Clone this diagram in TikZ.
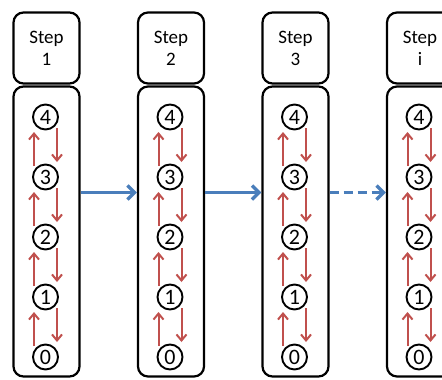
\documentclass[tikz,border=0pt]{standalone}
\usepackage{fontspec}
\setmainfont{Carlito}
\usetikzlibrary{arrows.meta,calc}
\definecolor{bluearr}{RGB}{74,126,187}
\definecolor{redarr}{RGB}{192,80,77}
\tikzset{
  header/.style={draw,line width=2.2pt,rounded corners=10pt,minimum width=66pt,minimum height=71pt,inner sep=0pt,align=center,font=\fontsize{19}{22}\selectfont},
  body/.style={draw,line width=2.2pt,rounded corners=10pt,minimum width=66pt,minimum height=290pt,inner sep=0pt},
  level/.style={draw,circle,line width=1.9pt,minimum size=25pt,inner sep=0pt,font=\fontsize{22}{22}\selectfont},
  redarrow/.style={draw=redarr,line width=2pt,-{Straight Barb[length=6pt,width=10pt,line width=2pt]}},
  bluearrow/.style={draw=bluearr,line width=3.4pt,-{Straight Barb[length=7pt,width=14pt,line width=3.4pt]}},
  bluedash/.style={bluearrow,dash pattern=on 9pt off 5pt}
}
\begin{document}
\begin{tikzpicture}[x=1pt,y=1pt]
\useasboundingbox (0,0) rectangle (442,-380);
\clip (0,0) rectangle (442,-380);
\foreach \c/\x/\lab in {1/46.5/1,2/171/2,3/295.5/3,4/420/i}{
  \node[header] (h\c) at (\x,-48) {Step\\\lab};
  \node[body] (b\c) at (\x,-231.5) {};
  \foreach \k in {0,...,4}{
    \node[level] (c\c\k) at (\x-1,{-(357-60*\k)}) {\k};
  }
  \foreach \k/\n in {0/1,1/2,2/3,3/4}{
    \draw[redarrow] ([shift={(-11.5,11)}]c\c\k.center) -- ([shift={(-11.5,-15)}]c\c\n.center);
    \draw[redarrow] ([shift={(11.5,-11)}]c\c\n.center) -- ([shift={(11.5,15)}]c\c\k.center);
  }
}
\draw[bluearrow] (b1.east |- 0,-192.5) -- (b2.west |- 0,-192.5);
\draw[bluearrow] (b2.east |- 0,-192.5) -- (b3.west |- 0,-192.5);
\draw[bluedash] (b3.east |- 0,-192.5) -- (b4.west |- 0,-192.5);
\end{tikzpicture}
\end{document}
